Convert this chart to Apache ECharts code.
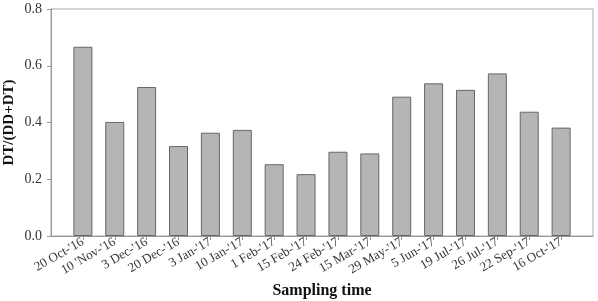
<!DOCTYPE html>
<html><head><meta charset="utf-8">
<script src="https://cdn.jsdelivr.net/npm/echarts@6/dist/echarts.min.js"></script>
<style>html,body{margin:0;padding:0;background:#fff}#c{width:598px;height:301px}</style>
</head><body><div id="c"></div>
<script>
const categories = ["20 Oct-'16","10 'Nov-'16","3 Dec-'16","20 Dec-'16","3 Jan-'17","10 Jan-'17","1 Feb-'17","15 Feb-'17","24 Feb-'17","15 Mar-'17","29 May-'17","5 Jun-'17","19 Jul-'17","26 Jul-'17","22 Sep-'17","16 Oct-'17"];
const ratio = [0.667,0.402,0.525,0.317,0.364,0.374,0.253,0.218,0.297,0.291,0.491,0.538,0.515,0.573,0.438,0.382];
const yTicks = [0,0.2,0.4,0.6,0.8];

const positions = categories.map((c,i)=>i+1);
const chart = echarts.init(document.getElementById('c'));
const serif = 'Liberation Serif';
chart.setOption({
  animation:false,
  grid:{left:51,right:5,top:9,bottom:65,outerBoundsMode:'none',containLabel:false,show:true,borderColor:'#aaa',borderWidth:1,backgroundColor:'transparent'},
  xAxis:{type:'value',min:0,max:categories.length+1,
    name:'Sampling time',nameLocation:'middle',nameGap:47,nameMoveOverlap:false,
    nameTextStyle:{fontFamily:serif,fontWeight:'bold',fontSize:16,color:'#111'},
    axisLine:{show:true,lineStyle:{color:'#999',width:1}},
    splitLine:{show:false},
    axisTick:{show:true,customValues:positions,length:4,lineStyle:{color:'#999'}},
    axisLabel:{customValues:positions,rotate:30,fontFamily:serif,fontSize:13,color:'#333',margin:5,
      formatter:v=>categories[Math.round(v)-1]||''}
  },
  yAxis:{type:'value',min:0,max:0.8,interval:0.2,
    name:'DT/(DD+DT)',nameLocation:'middle',nameGap:34,nameMoveOverlap:false,
    nameTextStyle:{fontFamily:serif,fontWeight:'bold',fontSize:15,color:'#111'},
    axisLine:{show:true,lineStyle:{color:'#999',width:1}},
    splitLine:{show:false},
    axisTick:{show:true,length:4,lineStyle:{color:'#999'}},
    axisLabel:{fontFamily:serif,fontSize:14,color:'#333',margin:9,formatter:v=>v.toFixed(1)}
  },
  series:[{type:'bar',barWidth:19,
    data:ratio.map((v,i)=>[positions[i],v]),
    itemStyle:{color:'#b5b5b5',borderColor:'#666',borderWidth:1}
  }]
});
</script></body></html>
